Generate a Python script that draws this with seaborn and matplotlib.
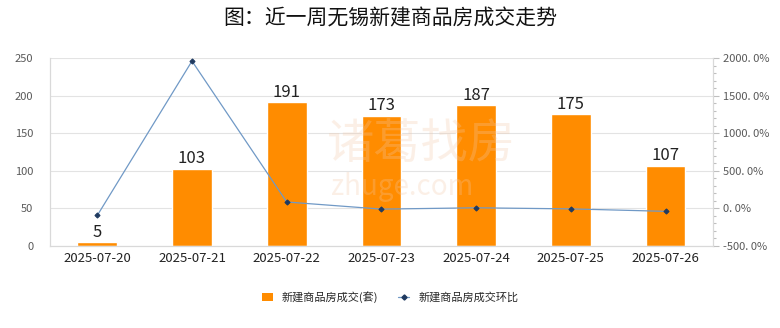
import matplotlib
matplotlib.use("Agg")
import matplotlib.pyplot as plt
import seaborn as sns
import pandas as pd
import numpy as np
from matplotlib.ticker import MultipleLocator, FuncFormatter
from matplotlib.lines import Line2D
from matplotlib.patches import Patch

dates = ["2025-07-20", "2025-07-21", "2025-07-22", "2025-07-23", "2025-07-24", "2025-07-25", "2025-07-26"]
deals = [5, 103, 191, 173, 187, 175, 107]
ratio = [-94.0, 1960.0, 85.4, -9.4, 8.1, -6.4, -38.9]

sns.set_theme(style="white")
plt.rcParams['font.family'] = ['Noto Sans CJK SC', 'DejaVu Sans']

df = pd.DataFrame({"date": dates, "deals": deals, "ratio": ratio})

fig = plt.figure(figsize=(7.8, 3.28), dpi=100)
ax = fig.add_axes([0.064, 0.25, 0.85, 0.573])

sns.barplot(data=df, x="date", y="deals", color="#FF8C00", width=0.42, ax=ax, saturation=1)
ax.set_ylim(0, 250)
ax.yaxis.set_major_locator(MultipleLocator(50))
ax.grid(axis="y", color="#e3e3e3", linewidth=0.8)
ax.set_axisbelow(True)
ax.set_xlabel("")
ax.set_ylabel("")
ax.spines["top"].set_visible(False)
for s in ["left", "bottom", "right"]:
    ax.spines[s].set_color("#d9d9d9")
    ax.spines[s].set_linewidth(0.8)
ax.tick_params(axis="y", labelsize=8, colors="#595959", length=0, pad=12)
ax.tick_params(axis="x", labelsize=9.5, colors="#222222", length=0, pad=4)
for i, v in enumerate(deals):
    ax.text(i, v + 2, str(v), ha="center", va="bottom", fontsize=12, color="#222222")

ax2 = ax.twinx()
sns.lineplot(x=np.arange(len(dates)), y=ratio, ax=ax2, color="#7099C6", linewidth=0.9,
             marker="D", markersize=2.6, markerfacecolor="#1F3A60", markeredgecolor="#1F3A60")
ax2.set_ylim(-500, 2000)
ax2.yaxis.set_major_locator(MultipleLocator(500))
ax2.yaxis.set_minor_locator(MultipleLocator(100))
ax2.yaxis.set_major_formatter(FuncFormatter(lambda v, p: f"{v:.1f}".replace(".", ". ") + "%"))
ax2.tick_params(axis="y", which="major", labelsize=8, colors="#595959", length=4, width=0.8, color="#bfbfbf", direction="out", pad=3)
ax2.tick_params(axis="y", which="minor", length=2.5, width=0.8, color="#bfbfbf", direction="out")
ax2.spines["top"].set_visible(False)
for s in ["left", "bottom", "right"]:
    ax2.spines[s].set_color("#d9d9d9")
    ax2.spines[s].set_linewidth(0.8)
ax2.set_ylabel("")
ax2.grid(False)
ax.set_xlim(-0.5, len(dates) - 0.5)

# watermark
fig.text(0.54, 0.56, "诸葛找房", ha="center", va="center", fontsize=34, color="#f3c9a8", alpha=0.28, zorder=0)
fig.text(0.515, 0.43, "zhuge.com", ha="center", va="center", fontsize=20, color="#f3c9a8", alpha=0.28, zorder=0)

fig.text(0.5, 0.945, "图：近一周无锡新建商品房成交走势", ha="center", va="center", fontsize=15,
         color="#111111", fontweight="medium")

handles = [Patch(facecolor="#FF8C00", edgecolor="none"),
           Line2D([0], [0], color="#7099C6", linewidth=0.9, marker="D", markersize=2.6,
                  markerfacecolor="#1F3A60", markeredgecolor="#1F3A60")]
fig.legend(handles, ["新建商品房成交(套)", "新建商品房成交环比"], loc="center", bbox_to_anchor=(0.5, 0.095),
           ncol=2, frameon=False, fontsize=8, handlelength=1.0, handleheight=0.7, columnspacing=1.8, handletextpad=0.8)

fig.savefig("out.png", dpi=100)
